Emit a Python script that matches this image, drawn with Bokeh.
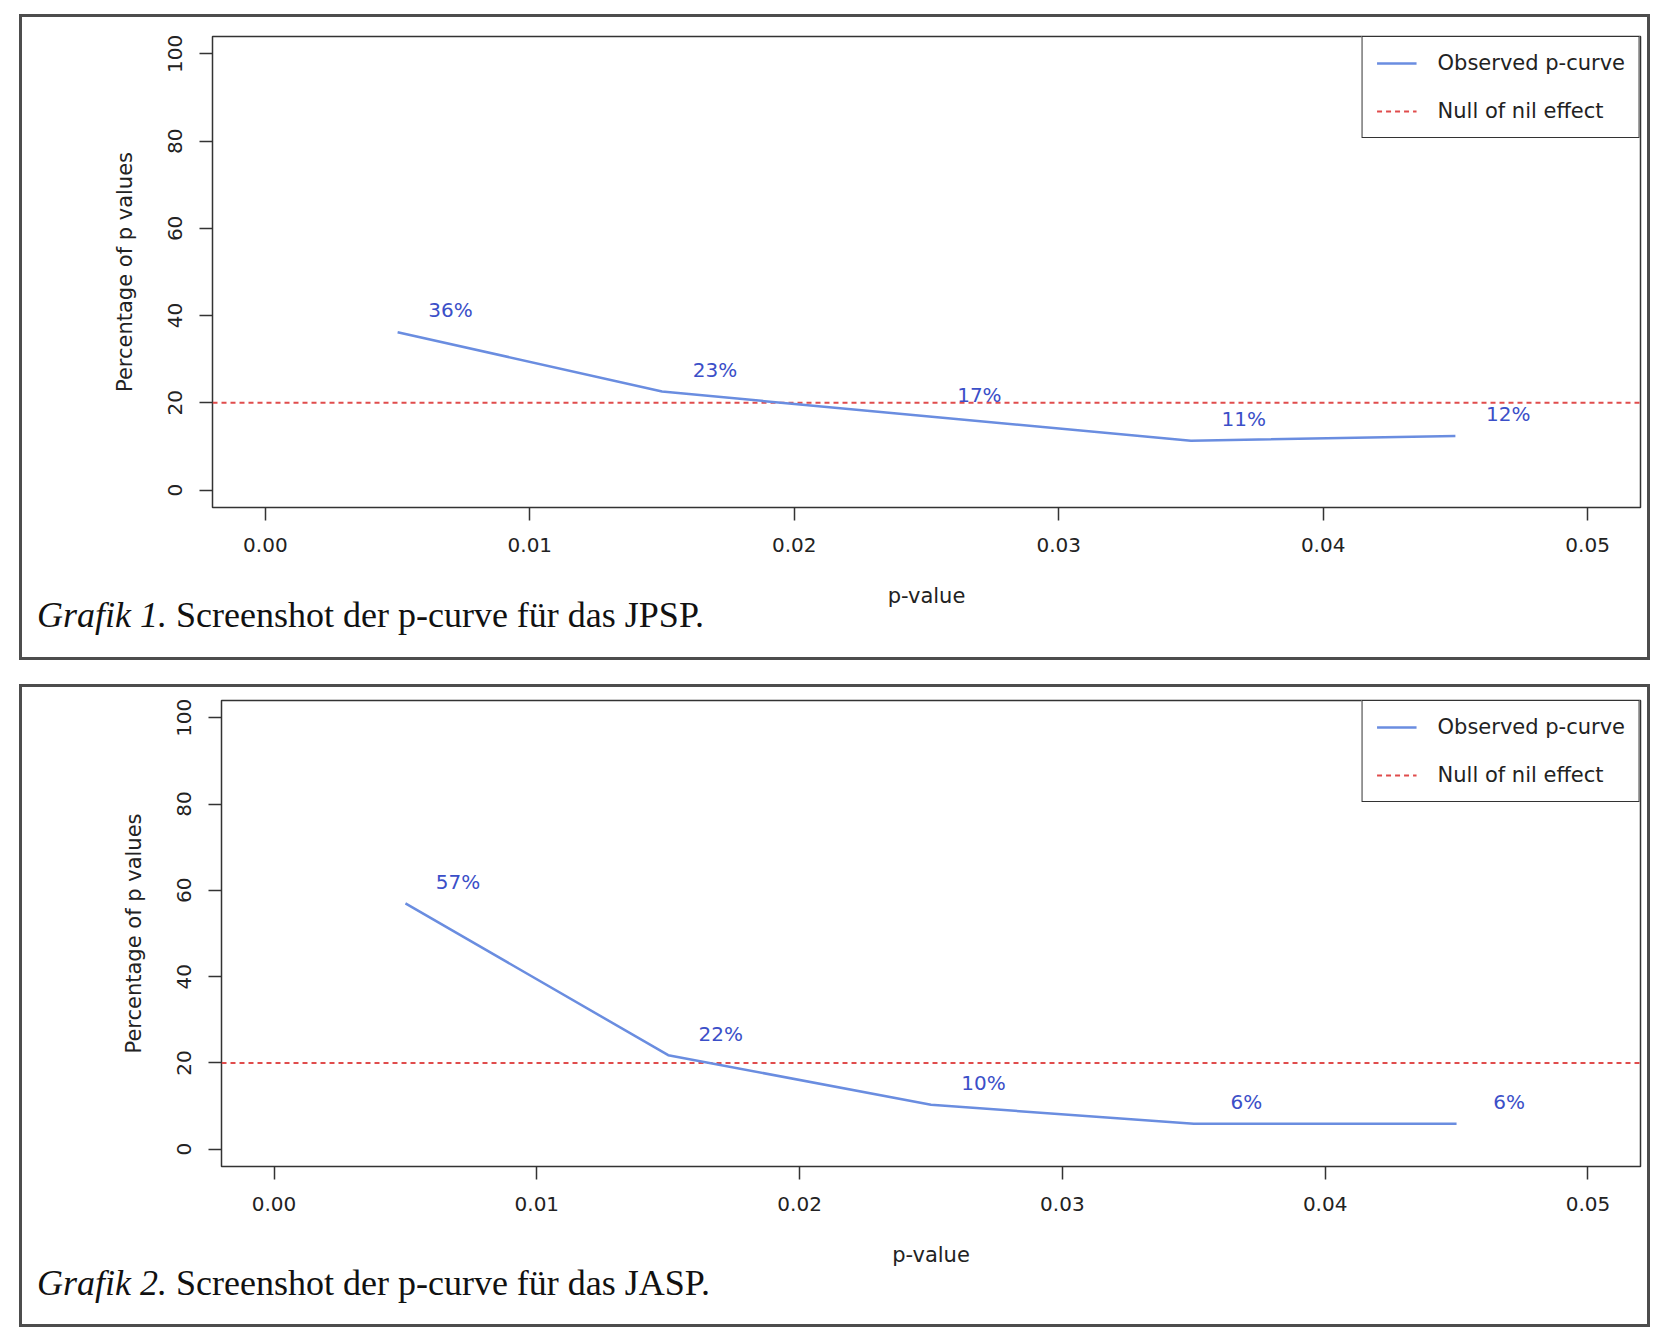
from bokeh.plotting import figure
from bokeh.models import (Range1d, FixedTicker, NumeralTickFormatter, Legend,
                          LegendItem, ColumnDataSource, Div)
from bokeh.layouts import column
from bokeh.core.properties import value
from bokeh.embed import file_html
from bokeh.resources import INLINE

# ---------------- data ----------------
P_BINS = [0.005, 0.015, 0.025, 0.035, 0.045]
JPSP_PCT = [36.2, 22.6, 16.9, 11.3, 12.4]
JPSP_LABELS = ["36%", "23%", "17%", "11%", "12%"]
JASP_PCT = [57.0, 21.8, 10.3, 5.9, 5.9]
JASP_LABELS = ["57%", "22%", "10%", "6%", "6%"]
NULL_PCT = 20
X_TICKS = [0.0, 0.01, 0.02, 0.03, 0.04, 0.05]
Y_TICKS = [0, 20, 40, 60, 80, 100]
X_LIM = (-0.002, 0.052)
Y_LIM = (-4, 104)
CAPTION_NUMS = ["Grafik 1.", "Grafik 2."]
CAPTION_TEXTS = ["Screenshot der p-curve für das JPSP.",
                 "Screenshot der p-curve für das JASP."]
LEGEND_LABELS = ["Observed p-curve", "Null of nil effect"]
X_LABEL = "p-value"
Y_LABEL = "Percentage of p values"

# ---------------- style ----------------
FIG_W = 1625
BLUE_LINE = "#6a8de0"
BLUE_TEXT = "#3b4fc8"
RED = "#e04c4c"
DARK = "#333333"
SANS = "DejaVu Sans"
SERIF = "Liberation Serif"
LABEL_DX = 0.002
LABEL_DY = 5


def make_figure(pct, labels, border_left, border_top, frame_w, frame_h,
                border_bottom):
    p = figure(width=FIG_W, height=border_top + frame_h + border_bottom,
               output_backend="svg", toolbar_location=None,
               x_range=Range1d(*X_LIM), y_range=Range1d(*Y_LIM),
               min_border_left=border_left,
               min_border_right=FIG_W - border_left - frame_w,
               min_border_top=border_top, min_border_bottom=border_bottom)
    p.background_fill_color = "white"
    p.border_fill_color = "white"
    p.outline_line_color = DARK
    p.outline_line_width = 1.5
    p.xgrid.visible = False
    p.ygrid.visible = False

    for ax in (p.xaxis[0], p.yaxis[0]):
        ax.axis_line_color = None
        ax.major_tick_line_color = DARK
        ax.major_tick_line_width = 1.5
        ax.major_tick_out = 13
        ax.major_tick_in = 0
        ax.minor_tick_line_color = None
        ax.major_label_text_font = SANS
        ax.major_label_text_font_size = "20px"
        ax.major_label_text_color = "#222222"
        ax.axis_label_text_font = SANS
        ax.axis_label_text_font_size = "21px"
        ax.axis_label_text_font_style = "normal"
        ax.axis_label_text_color = "#222222"

    p.xaxis.ticker = FixedTicker(ticks=X_TICKS)
    p.xaxis.formatter = NumeralTickFormatter(format="0.00")
    p.xaxis.major_label_standoff = 17
    p.xaxis.axis_label = X_LABEL
    p.xaxis.axis_label_standoff = 29

    p.yaxis.ticker = FixedTicker(ticks=Y_TICKS)
    p.yaxis.major_label_orientation = "vertical"
    p.yaxis.major_label_standoff = 17
    p.yaxis.axis_label = Y_LABEL
    p.yaxis.axis_label_standoff = 29

    src = ColumnDataSource(dict(
        x=P_BINS, y=pct, text=labels,
        lx=[x + LABEL_DX for x in P_BINS],
        ly=[y + LABEL_DY for y in pct]))

    null_r = p.line(x=list(X_LIM), y=[NULL_PCT, NULL_PCT], line_color=RED,
                    line_width=2, line_dash="5 4")
    obs_r = p.line(x="x", y="y", source=src, line_color=BLUE_LINE,
                   line_width=2.5)
    p.text(x="lx", y="ly", text="text", source=src, text_color=BLUE_TEXT,
           text_font=value(SANS), text_font_size="20px",
           text_align="center", text_baseline="middle")

    legend = Legend(items=[LegendItem(label=LEGEND_LABELS[0], renderers=[obs_r]),
                           LegendItem(label=LEGEND_LABELS[1], renderers=[null_r])],
                    location="top_right", margin=0, padding=14, spacing=24,
                    glyph_width=40, glyph_height=20, label_height=20,
                    label_standoff=21,
                    label_text_font=SANS, label_text_font_size="21px",
                    label_text_color="#222222")
    legend.border_line_color = DARK
    legend.border_line_alpha = 1.0
    legend.border_line_width = 1.5
    legend.background_fill_color = "white"
    legend.background_fill_alpha = 1.0
    p.add_layout(legend)
    return p


def make_caption(num, text, margin_top, height):
    html = ('<span style="font-style:italic">%s</span> %s' % (num, text))
    return Div(text=html, width=1600, height=height,
               margin=(margin_top, 0, 0, 15),
               styles={"font-family": SERIF, "font-size": "36px",
                       "line-height": "40px", "color": "#111111",
                       "white-space": "nowrap"})


PANEL_STYLE = {"border": "3px solid #4d4d4d", "background-color": "white"}

f1 = make_figure(JPSP_PCT, JPSP_LABELS, border_left=190, border_top=19,
                 frame_w=1428, frame_h=471, border_bottom=108)
c1 = make_caption(CAPTION_NUMS[0], CAPTION_TEXTS[0], margin_top=-20, height=62)
panel1 = column(f1, c1, spacing=0, styles=PANEL_STYLE, margin=(14, 0, 0, 19))

f2 = make_figure(JASP_PCT, JASP_LABELS, border_left=199, border_top=13,
                 frame_w=1419, frame_h=466, border_bottom=108)
c2 = make_caption(CAPTION_NUMS[1], CAPTION_TEXTS[1], margin_top=-11, height=61)
panel2 = column(f2, c2, spacing=0, styles=PANEL_STYLE, margin=(24, 0, 0, 19))

layout = column(panel1, panel2, spacing=0)
open("out.html", "w").write(file_html(layout, INLINE))
